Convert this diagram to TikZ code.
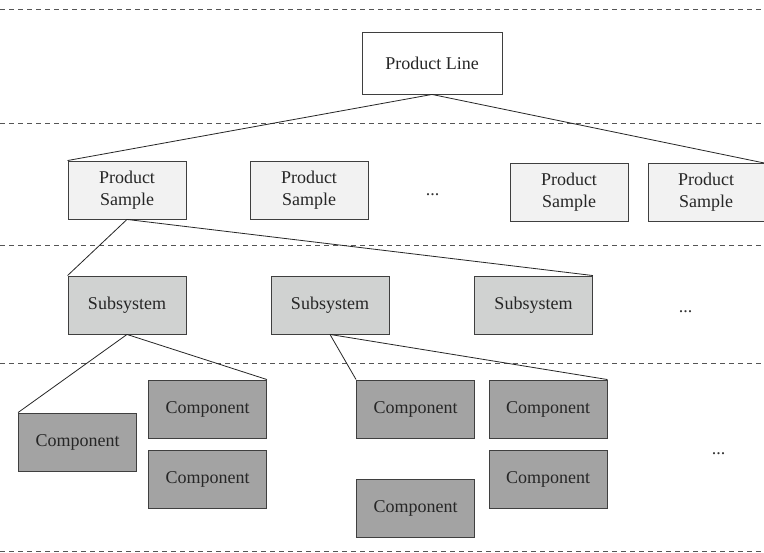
\documentclass[tikz,border=0pt]{standalone}
\usepackage{fontspec}
\setmainfont{Liberation Serif}
\definecolor{edgegray}{HTML}{3F3F3F}
\definecolor{sepgray}{HTML}{555555}
\definecolor{samplefill}{HTML}{F2F2F2}
\definecolor{subfill}{HTML}{D0D2D1}
\definecolor{compfill}{HTML}{A3A3A3}
\begin{document}
\begin{tikzpicture}[x=1pt,y=-1pt,
  box/.style={draw=edgegray,line width=0.9pt,minimum width=118pt,minimum height=58pt,
    inner sep=0pt,align=center,font=\fontsize{18}{22}\selectfont,text=black!85},
  linebox/.style={box,fill=white,minimum width=140pt,minimum height=62pt},
  samplebox/.style={box,fill=samplefill},
  subbox/.style={box,fill=subfill},
  compbox/.style={box,fill=compfill},
  dots/.style={inner sep=0pt,anchor=base,font=\fontsize{18}{22}\selectfont,text=black!80},
  sep/.style={draw=sepgray,line width=0.8pt,dash pattern=on 5pt off 4pt},
  link/.style={draw=black!85,line width=0.8pt}]
\useasboundingbox (0,0) rectangle (764,553);
\fill[white] (0,0) rectangle (764,553);

% level separators
\foreach \yy in {9,123,245,363,551}
  \draw[sep] (0,\yy) -- (764,\yy);

% product line
\node[linebox] (pl) at (432,63) {Product Line};

% product samples
\node[samplebox] (ps1) at (127,190) {Product\\Sample};
\node[samplebox] (ps2) at (309,190) {Product\\Sample};
\node[dots] (psdots) at (432.5,195.5) {...};
\node[samplebox] (ps3) at (569,192.5) {Product\\Sample};
\node[samplebox,minimum width=116pt] (ps4) at (706,192.5) {Product\\Sample};

% subsystems
\node[subbox] (ss1) at (127,305) {Subsystem};
\node[subbox] (ss2) at (330,305) {Subsystem};
\node[subbox] (ss3) at (533.5,305) {Subsystem};
\node[dots] (ssdots) at (685.5,312.5) {...};

% components
\node[compbox] (ca) at (77.5,442) {Component};
\node[compbox] (cb) at (207.5,409) {Component};
\node[compbox] (cc) at (207.5,479) {Component};
\node[compbox] (cd) at (415.5,409) {Component};
\node[compbox] (ce) at (548,409) {Component};
\node[compbox] (cf) at (548,479) {Component};
\node[compbox] (cg) at (415.5,508) {Component};
\node[dots] (cdots) at (718.5,454.5) {...};

% hierarchy links
\draw[link] (pl.south) -- (ps1.north west);
\draw[link] (pl.south) -- (ps4.north east);
\draw[link] (ps1.south) -- (ss1.north west);
\draw[link] (ps1.south) -- (ss3.north east);
\draw[link] (ss1.south) -- (ca.north west);
\draw[link] (ss1.south) -- (cb.north east);
\draw[link] (ss2.south) -- (cd.north west);
\draw[link] (ss2.south) -- (ce.north east);
\end{tikzpicture}
\end{document}
